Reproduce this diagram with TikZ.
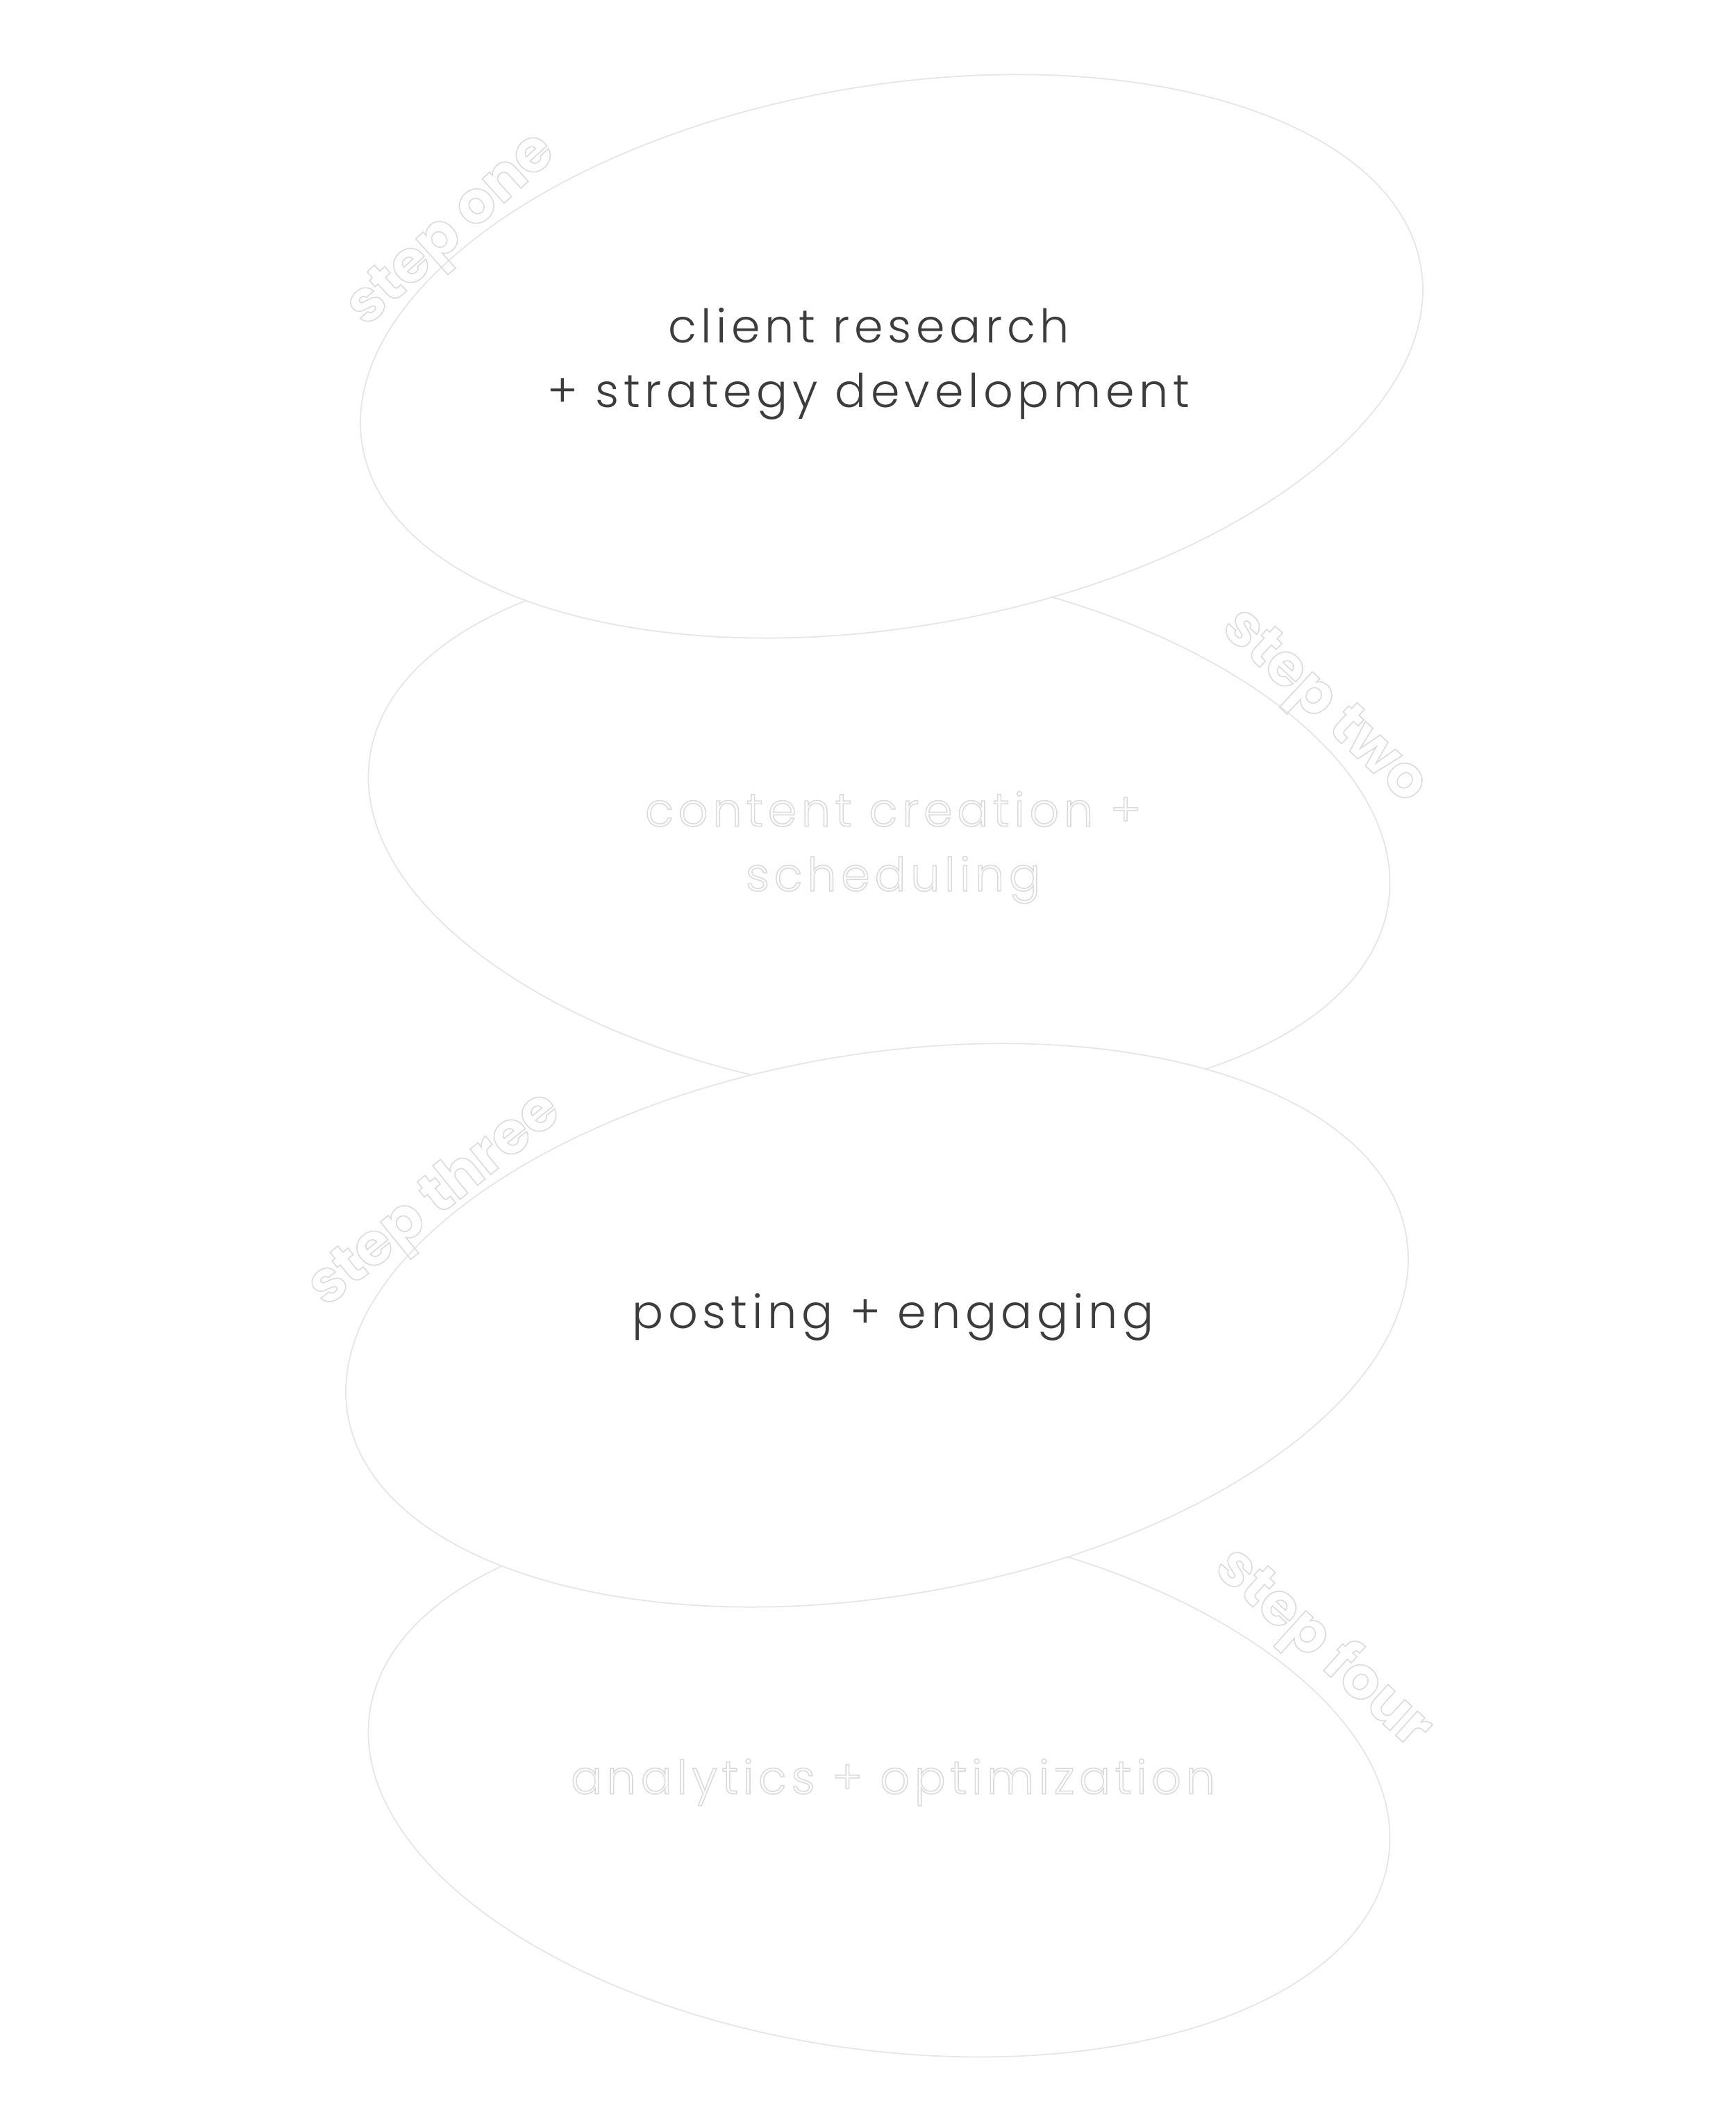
\documentclass[tikz,border=0pt]{standalone}
\usepackage{fontspec}
\setmainfont{Poppins}[UprightFont=* Light, BoldFont=* Bold]
\usetikzlibrary{shapes.geometric,positioning}
\definecolor{inkgray}{RGB}{60,60,60}
\definecolor{blobline}{RGB}{230,230,230}
% outlined white lettering: stroke only, light grey
\newcommand{\ghosttext}[1]{%
  \special{pdf:literal direct 1 Tr 0.45 w 0.86 0.86 0.86 RG}#1%
  \special{pdf:literal direct 0 Tr}}
\tikzset{
  blob/.style={ellipse, draw=blobline, fill=white, line width=0.5pt,
    inner sep=0pt, outer sep=0pt},
  bigblob/.style={blob, minimum width=154.6mm, minimum height=78mm, rotate=9.6},
  roundblob/.style={blob, minimum width=148.2mm, minimum height=76.2mm, rotate=-8.1},
  darklabel/.style={text=inkgray, align=center,
    font=\fontsize{19}{26.5}\selectfont\addfontfeature{LetterSpace=10}},
  ghostlabel/.style={darklabel, text=white},
  steptag/.style={text=white, font=\bfseries\fontsize{24}{24}\selectfont}
}

\begin{document}
\begin{tikzpicture}
  \useasboundingbox (0,0) rectangle (25,30.45);
  \fill[white] (0,0) rectangle (25,30.45);

  % blobs behind
  \node[roundblob] (blobtwo) at (12.66,18.50) {};
  \node[roundblob] (blobfour) at (12.66,4.75) {};
  \node[ghostlabel] (creation) at (12.86,18.25)
    {\ghosttext{content creation +}\\\ghosttext{scheduling}};
  \node[ghostlabel] (analytics) at (12.86,4.79)
    {\ghosttext{analytics + optimization}};

  % blobs in front
  \node[bigblob] (blobone) at (12.84,25.32) {};
  \node[bigblob] (blobthree) at (12.63,11.37) {};
  \node[darklabel] (research) at (12.51,25.21)
    {client research\\+ strategy development};
  \node[darklabel] (posting) at (12.86,11.49) {posting + engaging};

  % step tags
  \node[steptag, rotate=42] (tagone) at (6.53,27.11) {\ghosttext{step one}};
  \node[steptag, rotate=-43] (tagtwo) at (19.04,20.25) {\ghosttext{step two}};
  \node[steptag, rotate=39] (tagthree) at (6.28,13.16) {\ghosttext{step three}};
  \node[steptag, rotate=-42] (tagfour) at (19.04,6.71) {\ghosttext{step four}};
\end{tikzpicture}
\end{document}
